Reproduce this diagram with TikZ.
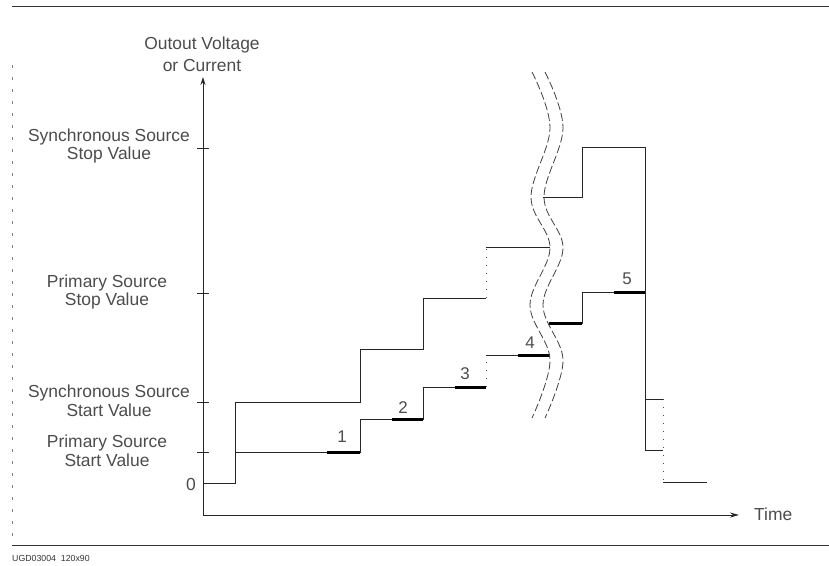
\documentclass[tikz,border=0pt]{standalone}
\usepackage{fontspec}
\setmainfont{Liberation Sans}
\usetikzlibrary{arrows.meta}
\begin{document}
\begin{tikzpicture}[x=1bp,y=-1bp,
  lbl/.style={font=\fontsize{17.5}{19}\selectfont, text=black!70, align=center, inner sep=0pt},
  num/.style={font=\fontsize{17}{18}\selectfont, text=black!70, inner sep=0pt},
  sig/.style={line width=0.9bp, black!85},
  hot/.style={line width=3bp, black},
  axis/.style={line width=0.9bp, black!85},
  gap/.style={line width=0.9bp, black!70, dash pattern=on 1bp off 7bp},
  brk/.style={line width=0.8bp, black!75, dash pattern=on 8bp off 3bp},
  tick/.style={line width=0.8bp, black!85}]
\useasboundingbox (0,0) rectangle (829,566);
% frame
\coordinate (ftl) at (12,7); \coordinate (ftr) at (829,7);
\coordinate (fbl) at (12,545); \coordinate (fbr) at (829,545);
\coordinate (flt) at (12,65);
\draw[line width=1bp, black!80] (ftl) -- (ftr);
\draw[line width=1bp, black!80] (fbl) -- (fbr);
\draw[line width=0.6bp, black!50, dash pattern=on 3bp off 9bp] (flt) -- (fbl);
\node[font=\fontsize{8.8}{9}\selectfont, text=black!80, anchor=west, inner sep=0pt] (ref) at (12,558) {UGD03004\ \ 120x90};
% axes
\coordinate (org) at (203,515);
\coordinate (ytop) at (203,77);
\coordinate (xend) at (739,515);
\draw[axis,-{Stealth[length=8bp,width=5bp]}] (org) -- (ytop);
\draw[axis,-{Stealth[length=9bp,width=5bp]}] (org) -- (xend);
% ticks
\foreach \yy/\nm in {148/tA,293/tB,402/tC,452/tD}{
  \coordinate (\nm l) at (197,\yy); \coordinate (\nm r) at (209,\yy);
  \draw[tick] (\nm l) -- (\nm r);
}
% labels
\node[lbl] (yl) at (202,54) {Outout Voltage\\[3bp]or Current};
\node[lbl] (ssv) at (109,146) {Synchronous Source\\Stop Value};
\node[lbl] (psv) at (107,292) {Primary Source\\Stop Value};
\node[lbl] (sst) at (109,401) {Synchronous Source\\Start Value};
\node[lbl] (pst) at (107,451) {Primary Source\\Start Value};
\node[lbl] (zero) at (191,484) {0};
\node[lbl, anchor=west] (time) at (754,514) {Time};
% synchronous (upper) staircase
\draw[sig] (203,483) -- (235,483) -- (235,402) -- (360,402) -- (360,349) -- (423,349) -- (423,298) -- (486,298);
\draw[gap] (486,298) -- (486,247);
\draw[sig] (486,247) -- (550,247);
\draw[sig] (543,197) -- (582,197) -- (582,147) -- (645,147) -- (645,450);
\draw[sig] (645,399) -- (663,399);
\draw[sig] (645,450) -- (663,450);
\draw[gap] (663,399) -- (663,482);
\draw[sig] (663,482) -- (707,482);
% primary (lower) staircase
\draw[sig] (235,452) -- (360,452) -- (360,419) -- (423,419) -- (423,387) -- (486,387);
\draw[gap] (486,387) -- (486,355);
\draw[sig] (486,355) -- (550,355);
\draw[sig] (549,323) -- (582,323) -- (582,292) -- (645,292);
% bold segments
\draw[hot] (327,452) -- (360,452);
\draw[hot] (392,419) -- (423,419);
\draw[hot] (455,387) -- (486,387);
\draw[hot] (518,355) -- (550,355);
\draw[hot] (549,323) -- (582,323);
\draw[hot] (614,292) -- (645,292);
% step numbers
\node[num] (n1) at (342,437) {1};
\node[num] (n2) at (403,408) {2};
\node[num] (n3) at (465,374) {3};
\node[num] (n4) at (530,343) {4};
\node[num] (n5) at (627,279) {5};
% break lines
\draw[brk] plot[smooth, tension=0.6] coordinates {(532,72) (550,128) (531,197) (550,248) (530,305) (550,360) (532,418)};
\draw[brk] plot[smooth, tension=0.6] coordinates {(545,72) (563,128) (544,197) (563,248) (543,305) (563,360) (545,418)};
\end{tikzpicture}
\end{document}
